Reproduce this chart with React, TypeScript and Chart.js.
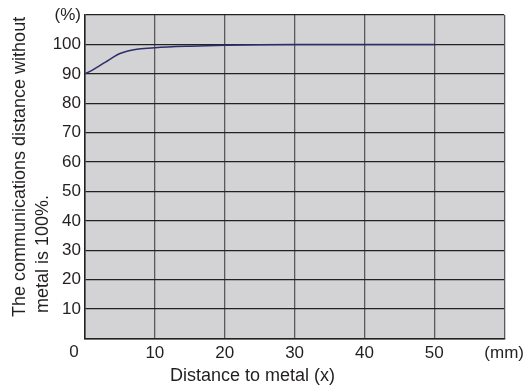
import React, { useEffect, useRef } from "react";
import { Chart, registerables } from "chart.js";

Chart.register(...registerables);

const distances = [0, 1, 2, 3, 4, 5, 6, 7, 8, 10, 15, 20, 25, 30, 40, 50];
const ratios = [90, 91.2, 92.6, 94.1, 95.6, 96.9, 97.7, 98.2, 98.5, 98.9, 99.4, 99.7, 99.9, 100, 100, 100];
const xTickLabels: Record<number, string> = { 0: "", 10: "10", 20: "20", 30: "30", 40: "40", 50: "50", 60: "(mm)" };
const yTickLabels: Record<number, string> = {
  0: "", 10: "10", 20: "20", 30: "30", 40: "40", 50: "50", 60: "60", 70: "70", 80: "80", 90: "90", 100: "100", 110: "(%)",
};
const xTitle = "Distance to metal (x)";
const yTitleLines = ["The communications distance without", "metal is 100%."];
const originLabel = "0";

const FONT = "'Liberation Sans', Arial, Helvetica, sans-serif";
const TEXT = "#231f20";

export default function App() {
  const ref = useRef<HTMLCanvasElement | null>(null);

  useEffect(() => {
    if (!ref.current) return;
    const bgPlugin = {
      id: "bgPlugin",
      beforeDraw(chart: any) {
        const { ctx, chartArea } = chart;
        ctx.save();
        ctx.fillStyle = "#d3d3d5";
        ctx.fillRect(chartArea.left, chartArea.top, chartArea.right - chartArea.left, chartArea.bottom - chartArea.top);
        ctx.restore();
      },
    };
    const textPlugin = {
      id: "textPlugin",
      afterDraw(chart: any) {
        const { ctx, chartArea } = chart;
        ctx.save();
        ctx.fillStyle = TEXT;
        ctx.textBaseline = "alphabetic";
        // origin label
        ctx.font = `17px ${FONT}`;
        ctx.textAlign = "center";
        ctx.fillText(originLabel, chartArea.left - 11, 357);
        // x title
        ctx.font = `18px ${FONT}`;
        ctx.textAlign = "left";
        ctx.fillText(xTitle, 170, 380.5);
        // y title
        const starts = [317, 313];
        const bases = [25, 48];
        yTitleLines.forEach((line, i) => {
          ctx.save();
          ctx.translate(bases[i], starts[i]);
          ctx.rotate(-Math.PI / 2);
          ctx.textAlign = "left";
          ctx.fillText(line, 0, 0);
          ctx.restore();
        });
        ctx.restore();
      },
    };

    const chart = new Chart(ref.current, {
      type: "line",
      data: {
        datasets: [
          {
            data: distances.map((d, i) => ({ x: d, y: ratios[i] })),
            borderColor: "#2b2d6e",
            borderWidth: 1.5,
            pointRadius: 0,
            cubicInterpolationMode: "monotone",
            fill: false,
          },
        ],
      },
      options: {
        responsive: false,
        animation: false,
        layout: { padding: { top: 15, right: 24, left: 0, bottom: 0 } },
        plugins: { legend: { display: false }, tooltip: { enabled: false } },
        scales: {
          x: {
            type: "linear",
            min: 0,
            max: 60,
            afterFit: (s: any) => {
              s.height = 48.5;
            },
            ticks: {
              stepSize: 10,
              autoSkip: false,
              maxRotation: 0,
              padding: 5,
              color: TEXT,
              font: { family: FONT, size: 17 },
              callback: (v: any) => xTickLabels[v] ?? "",
            },
            grid: { color: "#5a5a5a", lineWidth: 1.3, drawTicks: false },
            border: { display: true, color: "#222", width: 1.5 },
          },
          y: {
            min: 0,
            max: 110,
            afterFit: (s: any) => {
              s.width = 85;
            },
            ticks: {
              stepSize: 10,
              autoSkip: false,
              padding: 4,
              color: TEXT,
              font: { family: FONT, size: 17 },
              callback: (v: any) => yTickLabels[v] ?? "",
            },
            grid: { color: "#222", lineWidth: 1.3, drawTicks: false },
            border: { display: true, color: "#222", width: 1.5 },
          },
        },
      },
      plugins: [bgPlugin, textPlugin],
    } as any);
    return () => chart.destroy();
  }, []);

  return (
    <div style={{ position: "fixed", left: 0, top: 0, width: 529, height: 387, background: "#fff" }}>
      <canvas ref={ref} width={529} height={387} style={{ width: 529, height: 387, display: "block" }} />
    </div>
  );
}
